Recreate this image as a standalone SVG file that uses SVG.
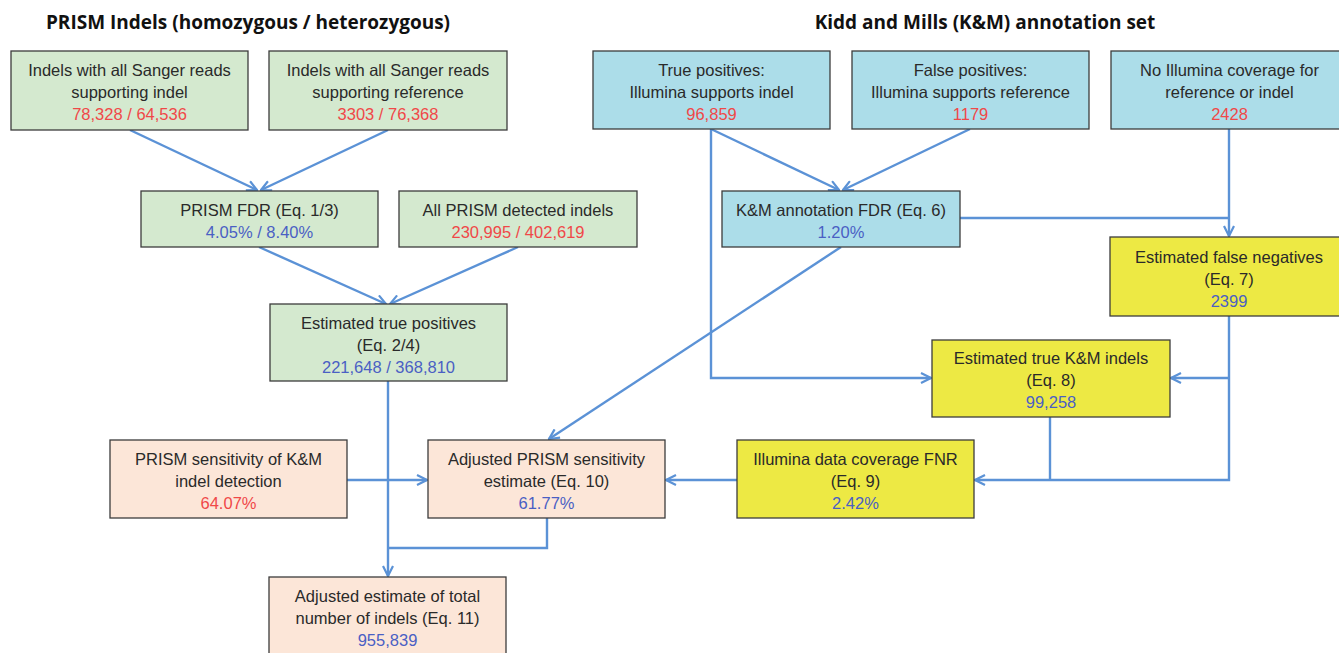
<svg xmlns="http://www.w3.org/2000/svg" width="1339" height="653" viewBox="0 0 1339 653">
<style>
.t{font-family:"Liberation Sans",Arial,sans-serif;font-size:16.5px;fill:#2a2a2a;text-anchor:middle}
.h{font-family:"Open Sans","Liberation Sans",sans-serif;font-size:19px;font-weight:bold;fill:#111;text-anchor:middle}
.r{fill:#f04848}
.b{fill:#4a5fc4}
.box{stroke:#3c3c3c;stroke-width:1.3}
.g{fill:#d4e9cf}
.c{fill:#acdde9}
.y{fill:#ede944}
.p{fill:#fce6d8}
.ln{fill:none;stroke:#5b92d6;stroke-width:2.4}
</style>
<defs>
<marker id="ah" viewBox="0 0 12 12" refX="11" refY="6" markerWidth="12" markerHeight="12" markerUnits="userSpaceOnUse" orient="auto">
<path d="M1,1 L11,6 L1,11" fill="none" stroke="#5b92d6" stroke-width="2.2"/>
</marker>
</defs>
<rect width="1339" height="653" fill="#fff"/>
<text class="h" x="248" y="29">PRISM Indels (homozygous / heterozygous)</text>
<text class="h" x="985" y="29">Kidd and Mills (K&amp;M) annotation set</text>

<g id="connectors">
<path class="ln" d="M130,130 L257,190" marker-end="url(#ah)"/>
<path class="ln" d="M388,130 L261,190" marker-end="url(#ah)"/>
<path class="ln" d="M259,247 L386,304" marker-end="url(#ah)"/>
<path class="ln" d="M518,247 L390,304" marker-end="url(#ah)"/>
<path class="ln" d="M711,129 L839,190" marker-end="url(#ah)"/>
<path class="ln" d="M970,129 L843,190" marker-end="url(#ah)"/>
<path class="ln" d="M711,129 L711,378 L931,378" marker-end="url(#ah)"/>
<path class="ln" d="M1229,129 L1229,236" marker-end="url(#ah)"/>
<path class="ln" d="M960,218 L1229,218"/>
<path class="ln" d="M841,247 L549,439" marker-end="url(#ah)"/>
<path class="ln" d="M1229,316 L1229,480 L975,480" marker-end="url(#ah)"/>
<path class="ln" d="M1229,378 L1171,378" marker-end="url(#ah)"/>
<path class="ln" d="M1050,417 L1050,480"/>
<path class="ln" d="M737,480 L666,480" marker-end="url(#ah)"/>
<path class="ln" d="M347,480 L427,480" marker-end="url(#ah)"/>
<path class="ln" d="M388,381 L388,576" marker-end="url(#ah)"/>
<path class="ln" d="M547,518 L547,548 L388,548"/>
</g>

<g id="n1"><rect class="box g" x="11" y="51" width="237" height="79"/>
<text class="t" x="129.5" y="76">Indels with all Sanger reads</text><text class="t" x="129.5" y="98">supporting indel</text><text class="t r" x="129.5" y="120">78,328 / 64,536</text></g>
<g id="n2"><rect class="box g" x="269" y="51" width="238" height="79"/>
<text class="t" x="388" y="76">Indels with all Sanger reads</text><text class="t" x="388" y="98">supporting reference</text><text class="t r" x="388" y="120">3303 / 76,368</text></g>
<g id="n3"><rect class="box c" x="593" y="51" width="237" height="78"/>
<text class="t" x="711.5" y="76">True positives:</text><text class="t" x="711.5" y="98">Illumina supports indel</text><text class="t r" x="711.5" y="120">96,859</text></g>
<g id="n4"><rect class="box c" x="852" y="51" width="237" height="78"/>
<text class="t" x="970.5" y="76">False positives:</text><text class="t" x="970.5" y="98">Illumina supports reference</text><text class="t r" x="970.5" y="120">1179</text></g>
<g id="n5"><rect class="box c" x="1111" y="51" width="237" height="78"/>
<text class="t" x="1229.5" y="76">No Illumina coverage for</text><text class="t" x="1229.5" y="98">reference or indel</text><text class="t r" x="1229.5" y="120">2428</text></g>
<g id="n6"><rect class="box g" x="141" y="191" width="237" height="56"/>
<text class="t" x="259.5" y="216">PRISM FDR (Eq. 1/3)</text><text class="t b" x="259.5" y="238">4.05% / 8.40%</text></g>
<g id="n7"><rect class="box g" x="399" y="191" width="238" height="56"/>
<text class="t" x="518" y="216">All PRISM detected indels</text><text class="t r" x="518" y="238">230,995 / 402,619</text></g>
<g id="n8"><rect class="box c" x="722" y="191" width="238" height="56"/>
<text class="t" x="841" y="216">K&amp;M annotation FDR (Eq. 6)</text><text class="t b" x="841" y="238">1.20%</text></g>
<g id="n9"><rect class="box y" x="1110" y="237" width="238" height="79"/>
<text class="t" x="1229" y="263">Estimated false negatives</text><text class="t" x="1229" y="285">(Eq. 7)</text><text class="t b" x="1229" y="307">2399</text></g>
<g id="n10"><rect class="box g" x="270" y="304" width="237" height="77"/>
<text class="t" x="388.5" y="329">Estimated true positives</text><text class="t" x="388.5" y="351">(Eq. 2/4)</text><text class="t b" x="388.5" y="373">221,648 / 368,810</text></g>
<g id="n11"><rect class="box y" x="932" y="340" width="238" height="77"/>
<text class="t" x="1051" y="364">Estimated true K&amp;M indels</text><text class="t" x="1051" y="386">(Eq. 8)</text><text class="t b" x="1051" y="408">99,258</text></g>
<g id="n12"><rect class="box p" x="110" y="440" width="237" height="78"/>
<text class="t" x="228.5" y="465">PRISM sensitivity of K&amp;M</text><text class="t" x="228.5" y="487">indel detection</text><text class="t r" x="228.5" y="509">64.07%</text></g>
<g id="n13"><rect class="box p" x="428" y="440" width="237" height="78"/>
<text class="t" x="546.5" y="465">Adjusted PRISM sensitivity</text><text class="t" x="546.5" y="487">estimate (Eq. 10)</text><text class="t b" x="546.5" y="509">61.77%</text></g>
<g id="n14"><rect class="box y" x="737" y="440" width="237" height="78"/>
<text class="t" x="855.5" y="465">Illumina data coverage FNR</text><text class="t" x="855.5" y="487">(Eq. 9)</text><text class="t b" x="855.5" y="509">2.42%</text></g>
<g id="n15"><rect class="box p" x="269" y="577" width="237" height="80"/>
<text class="t" x="387.5" y="602">Adjusted estimate of total</text><text class="t" x="387.5" y="624">number of indels (Eq. 11)</text><text class="t b" x="387.5" y="646">955,839</text></g>
</svg>
